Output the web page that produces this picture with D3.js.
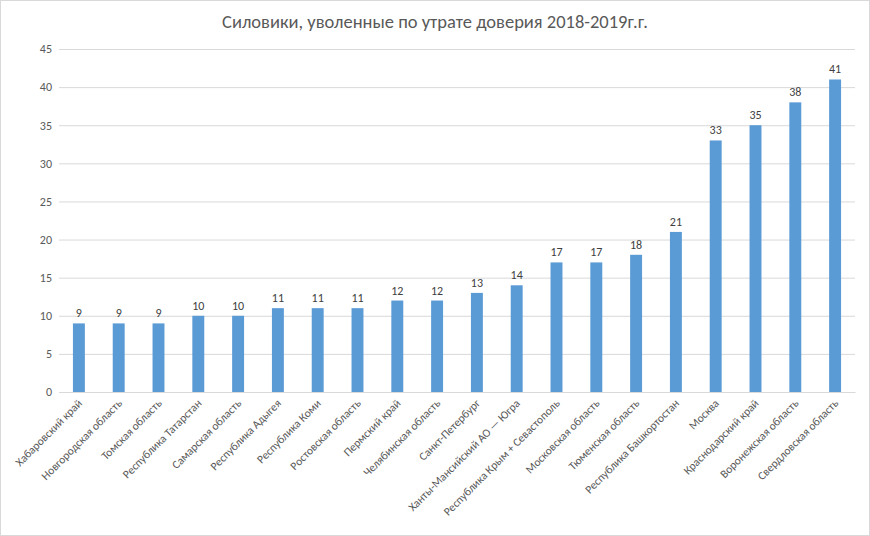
<!DOCTYPE html>
<html><head><meta charset="utf-8">
<script src="https://cdn.jsdelivr.net/npm/d3@7"></script>
<style>body{margin:0;background:#fff}svg{font-family:Calibri,Carlito,"Liberation Sans",Arial,sans-serif}</style>
</head><body><svg id="c" width="870" height="536"></svg>
<script>
const categories=["Хабаровский край","Новгородская область","Томская область","Республика Татарстан","Самарская область","Республика Адыгея","Республика Коми","Ростовская область","Пермский край","Челябинская область","Санкт-Петербург","Ханты-Мансийский АО — Югра","Республика Крым + Севастополь","Московская область","Тюменская область","Республика Башкортостан","Москва","Краснодарский край","Воронежская область","Свердловская область"];
const values=[9,9,9,10,10,11,11,11,12,12,13,14,17,17,18,21,33,35,38,41];
const yTicks=[0,5,10,15,20,25,30,35,40,45];
const title="Силовики, уволенные по утрате доверия 2018-2019г.г.";
const svg=d3.select("#c");
svg.append("rect").attr("x",0.5).attr("y",0.5).attr("width",869).attr("height",535).attr("fill","#fff").attr("stroke","#d9d9d9");
const x=d3.scaleBand().domain(categories).range([59,855]).paddingInner(0.7).paddingOuter(0.35);
const y=d3.scaleLinear().domain([0,45]).range([392,49]);
const g=svg.append("g");
g.selectAll("line.g").data(yTicks).join("line").attr("x1",59).attr("x2",855).attr("y1",d=>y(d)+0.5).attr("y2",d=>y(d)+0.5).attr("stroke","#d9d9d9");
const ya=svg.append("g").attr("transform","translate(52,0)").call(d3.axisLeft(y).tickValues(yTicks).tickSize(0).tickPadding(0));
ya.select(".domain").remove();
ya.selectAll("text").attr("font-size",12).attr("fill","#595959").attr("font-family","Calibri,Carlito,'Liberation Sans',sans-serif");
g.selectAll("rect.b").data(values).join("rect").attr("x",(d,i)=>x(categories[i])).attr("width",x.bandwidth()).attr("y",d=>y(d)).attr("height",d=>y(0)-y(d)).attr("fill","#5b9bd5");
g.selectAll("text.v").data(values).join("text").attr("x",(d,i)=>x(categories[i])+x.bandwidth()/2).attr("y",d=>y(d)-6).attr("text-anchor","middle").attr("font-size",12).attr("fill","#404040").text(d=>d);
const xa=svg.append("g").attr("transform","translate(0,392)").call(d3.axisBottom(x).tickSize(0).tickPadding(0));
xa.select(".domain").attr("stroke","#d9d9d9");
xa.selectAll("text").attr("font-size",11.5).attr("fill","#595959").attr("font-family","Calibri,Carlito,'Liberation Sans',sans-serif")
 .attr("text-anchor","end").attr("transform","translate(4,12) rotate(-45)").attr("dy",0);
svg.append("text").attr("x",435).attr("y",28).attr("text-anchor","middle").attr("font-size",18.5).attr("fill","#595959").text(title);
</script></body></html>
